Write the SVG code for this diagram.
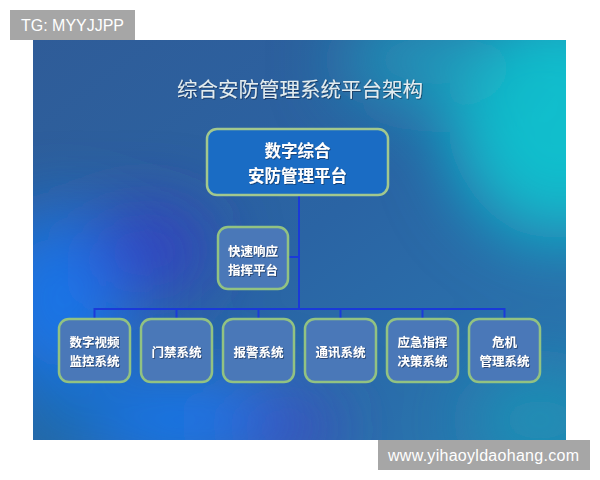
<svg xmlns="http://www.w3.org/2000/svg" width="600" height="480" viewBox="0 0 600 480">
<defs>
<linearGradient id="bg" x1="0" y1="0" x2="1" y2="1">
<stop offset="0" stop-color="#2f5c98"/>
<stop offset="0.5" stop-color="#2a64a4"/>
<stop offset="1" stop-color="#2a78b0"/>
</linearGradient>
<clipPath id="clip"><rect x="33" y="40" width="533" height="400"/></clipPath>
<filter id="blur" x="-50%" y="-50%" width="200%" height="200%"><feGaussianBlur stdDeviation="35"/></filter>
<filter id="ts" x="-10%" y="-10%" width="120%" height="130%"><feDropShadow dx="0.8" dy="0.8" stdDeviation="0.6" flood-color="#102040" flood-opacity="0.7"/></filter>
<style>
.lab{font-family:"Noto Sans CJK SC","Liberation Sans",sans-serif;fill:#ffffff;text-anchor:middle;font-weight:bold}
.sub rect{fill:#4a78b8;stroke:#92c282;stroke-width:2.5}
.sub text{font-size:12.5px}
.wm{font-family:"Liberation Sans",Arial,sans-serif;fill:#ffffff;font-size:16px}
.ln{stroke:#1a3ad8;stroke-width:2;fill:none}
</style>
</defs>
<rect width="600" height="480" fill="#ffffff"/>
<g clip-path="url(#clip)">
<rect x="33" y="40" width="533" height="400" fill="url(#bg)"/>
<g filter="url(#blur)">
<ellipse cx="560" cy="120" rx="110" ry="120" fill="#10c8d0" opacity="0.9"/>
<ellipse cx="430" cy="60" rx="90" ry="50" fill="#18a8c0" opacity="0.7"/>
<ellipse cx="60" cy="300" rx="70" ry="90" fill="#1478f0" opacity="0.9"/>
<ellipse cx="190" cy="420" rx="110" ry="40" fill="#1a78f8" opacity="0.9"/>
<ellipse cx="150" cy="250" rx="60" ry="40" fill="#3a30d0" opacity="0.8"/>
<ellipse cx="290" cy="430" rx="50" ry="30" fill="#4a38c8" opacity="0.8"/>
<ellipse cx="50" cy="430" rx="50" ry="30" fill="#1070a8" opacity="0.8"/>
<ellipse cx="540" cy="420" rx="70" ry="50" fill="#1c98b8" opacity="0.8"/>
</g>
</g>
<text x="300" y="97" font-family="Noto Sans CJK SC,Liberation Sans,sans-serif" font-size="20.5" fill="#e2ecf0" text-anchor="middle" filter="url(#ts)">综合安防管理系统平台架构</text>
<g id="connectors">
<path class="ln" d="M299 195 V309"/>
<path class="ln" d="M288 257 H299"/>
<path class="ln" d="M94.5 319 V309 H504.5 V319"/>
<path class="ln" d="M176.5 309 V319 M258.5 309 V319 M340.5 309 V319 M422.5 309 V319"/>
</g>
<g id="main">
<rect x="207" y="129" width="181" height="66" rx="10" fill="#1a6cc4" stroke="#a2c88e" stroke-width="2.5"/>
<text class="lab" font-size="16.5" filter="url(#ts)"><tspan x="297.5" y="157">数字综合</tspan><tspan x="297.5" y="181.5">安防管理平台</tspan></text>
</g>
<g id="rapid" class="sub">
<rect x="218" y="227" width="70" height="62" rx="10"/>
<text class="lab" filter="url(#ts)"><tspan x="253" y="256">快速响应</tspan><tspan x="253" y="274.5">指挥平台</tspan></text>
</g>
<g id="video" class="sub">
<rect x="59" y="319" width="71" height="63" rx="10"/>
<text class="lab" filter="url(#ts)"><tspan x="94.5" y="347">数字视频</tspan><tspan x="94.5" y="365.5">监控系统</tspan></text>
</g>
<g id="access" class="sub">
<rect x="141" y="319" width="71" height="63" rx="10"/>
<text class="lab" x="176.5" y="357" filter="url(#ts)">门禁系统</text>
</g>
<g id="alarm" class="sub">
<rect x="223" y="319" width="71" height="63" rx="10"/>
<text class="lab" x="258.5" y="357" filter="url(#ts)">报警系统</text>
</g>
<g id="comm" class="sub">
<rect x="305" y="319" width="71" height="63" rx="10"/>
<text class="lab" x="340.5" y="357" filter="url(#ts)">通讯系统</text>
</g>
<g id="emergency" class="sub">
<rect x="387" y="319" width="71" height="63" rx="10"/>
<text class="lab" filter="url(#ts)"><tspan x="422.5" y="347">应急指挥</tspan><tspan x="422.5" y="365.5">决策系统</tspan></text>
</g>
<g id="crisis" class="sub">
<rect x="469" y="319" width="71" height="63" rx="10"/>
<text class="lab" filter="url(#ts)"><tspan x="504.5" y="347">危机</tspan><tspan x="504.5" y="365.5">管理系统</tspan></text>
</g>
<g id="tg">
<rect x="10" y="10" width="125" height="30" fill="#a6a6a6"/>
<text class="wm" x="21" y="31" textLength="103">TG: MYYJJPP</text>
</g>
<g id="site">
<rect x="378" y="440" width="212" height="30" fill="#a6a6a6"/>
<text class="wm" x="388" y="461" textLength="191">www.yihaoyldaohang.com</text>
</g>
</svg>
